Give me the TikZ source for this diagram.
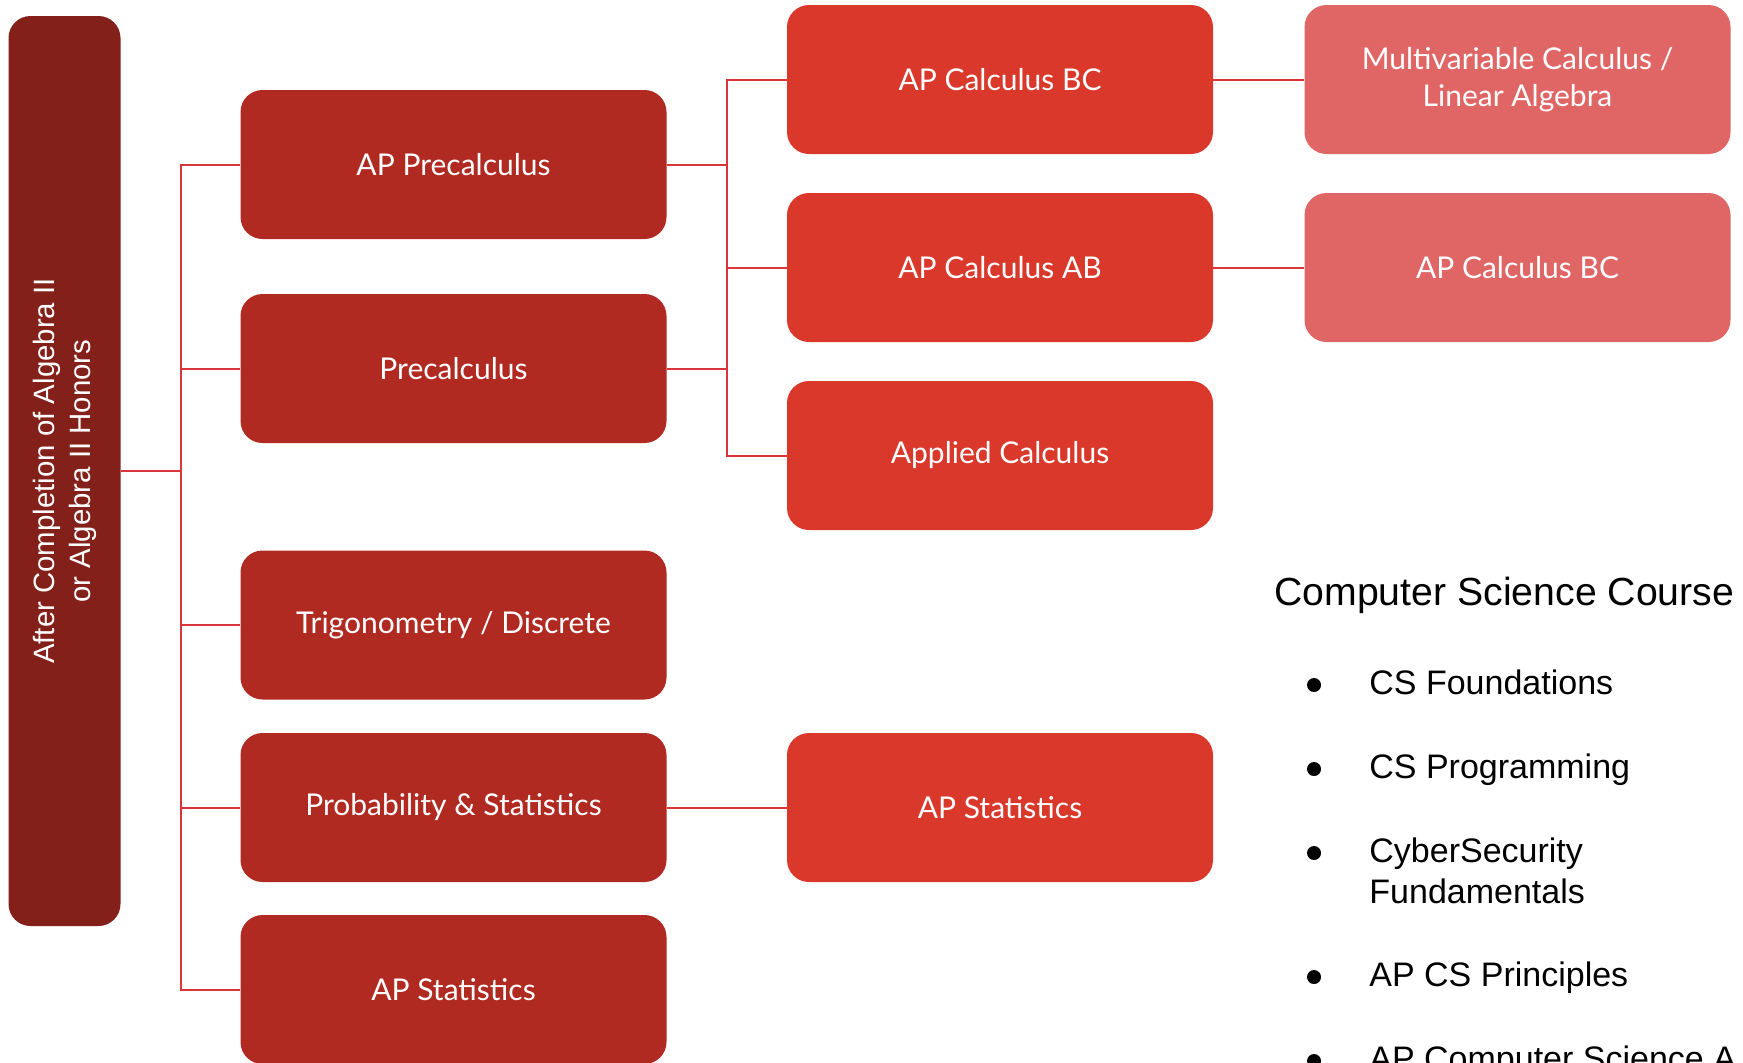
\documentclass[tikz,border=0pt]{standalone}
\usepackage{fontspec}
\setmainfont{Lato}
\newfontfamily\arialfont{Liberation Sans}
\usetikzlibrary{positioning}

\definecolor{rootred}{HTML}{832019}
\definecolor{levelone}{HTML}{B02A21}
\definecolor{leveltwo}{HTML}{D9382B}
\definecolor{levelthree}{HTML}{E06666}
\definecolor{linkred}{HTML}{D8363B}

\tikzset{
  course/.style={rounded corners=11pt, text=white, minimum width=213pt, minimum height=74.5pt,
    inner sep=0pt, align=center, font=\fontsize{15}{18.5}\selectfont},
  firstyear/.style={course, fill=levelone},
  secondyear/.style={course, fill=leveltwo},
  thirdyear/.style={course, fill=levelthree},
  link/.style={draw=linkred, line width=1pt},
  csitem/.style={anchor=base west, align=left, inner sep=0pt, font=\arialfont\fontsize{17}{20.5}\selectfont},
  csdot/.style={circle, fill=black, minimum size=7pt, inner sep=0pt},
}

\begin{document}
\begin{tikzpicture}[x=0.5pt, y=-0.5pt]
    \useasboundingbox (0,0) rectangle (1743,1062);

    \node (root) [fill=rootred, rounded corners=11pt, rotate=90, minimum width=455pt, minimum height=56pt,
      inner sep=0pt, text=white, align=center, font=\arialfont\fontsize{14.7}{18}\selectfont]
      at (64.5,471) {After Completion of Algebra II\\or Algebra II Honors};

    % first column
    \node (apprecalc) [firstyear] at (453.5,164.5) {AP Precalculus};
    \node (precalc) [firstyear] at (453.5,368.5) {Precalculus};
    \node (trigdisc) [firstyear] at (453.5,625) {Trigonometry / Discrete};
    \node (probstat) [firstyear] at (453.5,807.5) {Probability \& Statistics};
    \node (apstatone) [firstyear] at (453.5,989.5) {AP Statistics};

    % second column
    \node (calcbc) [secondyear] at (1000,79.5) {AP Calculus BC};
    \node (calcab) [secondyear] at (1000,267.5) {AP Calculus AB};
    \node (appliedcalc) [secondyear] at (1000,455.5) {Applied Calculus};
    \node (apstattwo) [secondyear] at (1000,807.5) {AP Statistics};

    % third column
    \node (multivar) [thirdyear] at (1517.5,79.5) {Multivariable Calculus /\\Linear Algebra};
    \node (calcbcnext) [thirdyear] at (1517.5,267.5) {AP Calculus BC};

    % connectors
    \coordinate (split) at (181,471);
    \coordinate (merge) at (727,164.5);
    \draw[link] (root) -- (split);
    \draw[link] (split) |- (apprecalc);
    \draw[link] (split) |- (precalc);
    \draw[link] (split) |- (trigdisc);
    \draw[link] (split) |- (probstat);
    \draw[link] (split) |- (apstatone);
    \draw[link] (apprecalc) -- (merge);
    \draw[link] (precalc) -- (merge |- precalc);
    \draw[link] (merge) |- (calcbc);
    \draw[link] (merge) |- (calcab);
    \draw[link] (merge) |- (appliedcalc);
    \draw[link] (probstat) -- (apstattwo);
    \draw[link] (calcbc) -- (multivar);
    \draw[link] (calcab) -- (calcbcnext);

    % computer science list
    \node (cshead) [anchor=base west, inner sep=0pt, font=\arialfont\fontsize{19.6}{24}\selectfont] at (1274,605) {Computer Science Course};
    \node (csfound) [csitem] at (1369,694) {CS Foundations};
    \node (csprog) [csitem] at (1369,778) {CS Programming};
    \node (cscyber) [csitem] at (1369,903) {CyberSecurity\\Fundamentals};
    \node (csprin) [csitem] at (1369,986) {AP CS Principles};
    \node (csa) [csitem] at (1369,1070) {AP Computer Science A};
    \node (dotfound) [csdot] at (1314,685) {};
    \node (dotprog) [csdot] at (1314,769) {};
    \node (dotcyber) [csdot] at (1314,853) {};
    \node (dotprin) [csdot] at (1314,977) {};
    \node (dotcsa) [csdot] at (1314,1061) {};
\end{tikzpicture}
\end{document}
